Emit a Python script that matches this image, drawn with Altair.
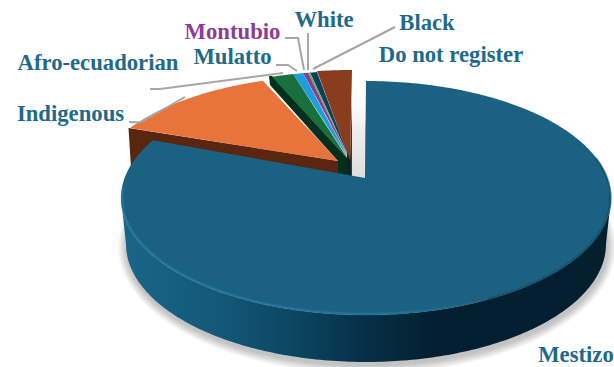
import math
import altair as alt

# Population shares by self-identified ethnicity, in percent, clockwise from twelve o'clock
categories = ["Mestizo", "Indigenous", "Afro-ecuadorian", "Mulatto", "Montubio", "White", "Black", "Do not register"]
shares = [83.22, 11.47, 1.44, 0.66, 0.33, 0.13, 0.46, 2.28]

top_colors = ["#1A6182", "#E8743B", "#17703D", "#1C9FDC", "#8E3A96", "#5BB947", "#0F3F5C", "#8A3D1C"]
side_colors = ["#0C4662", "#5A2610", "#03301C", "#0B4F6E", "#4A1E50", "#2E6024", "#062033", "#5F2A12"]

# Disc geometry on the 614x367 canvas
W, H = 614, 367
CX, CY, RX, RY = 366, 198, 245, 117
BASE_CX, BASE_CY, BASE_RX, BASE_RY = 366, 244, 240, 118
MAIN_APEX = (365, 178)
PULLED_RY = 105

# Centre and apex of each pulled-out slice
slice_center = {
    "Indigenous": (343, 180), "Afro-ecuadorian": (352, 176), "Mulatto": (352, 176),
    "Montubio": (352, 176), "White": (352, 176), "Black": (352, 176), "Do not register": (352, 175),
}
slice_apex = {
    "Indigenous": (338, 161), "Afro-ecuadorian": (347, 158), "Mulatto": (347.5, 157),
    "Montubio": (348, 156), "White": (348, 156), "Black": (348.5, 156), "Do not register": (350, 160),
}
# Visible cut faces of the pulled-out slices
cut_faces = {
    "Do not register": [(350, 160), (352, 100), (352, 177), (349, 177)],
    "Black": [(347, 150), (350, 150), (351, 177), (347, 177)],
    "Afro-ecuadorian": [(269, 76), (272, 76), (347, 158), (347, 178), (338, 178), (338, 161), (270, 85)],
    "Indigenous": [(128.5, 128), (338, 161), (338, 201), (131, 168)],
}

label_colors = ["#1E6A8C"] * len(categories)
label_colors[categories.index("Montubio")] = "#8E3A96"
label_x = [576, 70.5, 98, 232.5, 232.5, 324, 427, 451]
label_y = [355, 114, 63, 57, 32, 20, 23, 55]

# Leader lines from each label to its slice
leaders = [
    [(129, 122), (140, 122.5), (185, 97)],
    [(150, 89), (160, 89), (283, 73)],
    [(276, 65), (288, 65), (297, 71)],
    [(285, 38), (298, 38), (304, 70)],
    [(308, 33), (308, 70)],
    [(395, 27), (313, 69)],
]


def ellipse_pt(cx, cy, rx, ry, deg):
    t = math.radians(deg)
    return (cx + rx * math.sin(t), cy - ry * math.cos(t))


def arc(cx, cy, rx, ry, a0, a1, step=1.0):
    n = max(2, int(abs(a1 - a0) / step) + 1)
    return [ellipse_pt(cx, cy, rx, ry, a0 + (a1 - a0) * i / (n - 1)) for i in range(n)]


def poly(points):
    ring = [list(p) for p in points]
    ring.append(ring[0])
    return {"type": "Feature", "properties": {}, "geometry": {"type": "Polygon", "coordinates": [ring]}}


def path(points):
    return {"type": "Feature", "properties": {},
            "geometry": {"type": "LineString", "coordinates": [list(p) for p in points]}}


def geo(feature, **mark):
    return alt.Chart(alt.Data(values=[feature])).mark_geoshape(**mark)


def h_gradient(stops):
    return alt.LinearGradient(gradient="linear", x1=0, x2=1, y1=0, y2=0,
                              stops=[alt.GradientStop(offset=o, color=c) for o, c in stops])


def v_gradient(stops):
    return alt.LinearGradient(gradient="linear", x1=0, x2=0, y1=0, y2=1,
                              stops=[alt.GradientStop(offset=o, color=c) for o, c in stops])


total = sum(shares)
edges = [0.0]
for s in shares:
    edges.append(edges[-1] + 360.0 * s / total)
span = {c: (edges[i], edges[i + 1]) for i, c in enumerate(categories)}

layers = []

# Soft drop shadow beneath the disc
for k in range(9, 0, -1):
    layers.append(geo(poly(arc(BASE_CX + 1, BASE_CY + 3, BASE_RX + k, BASE_RY + k, 0, 360, 3)),
                      fill="#000000", fillOpacity=0.028, strokeWidth=0))

# Light shadow in the gap left by the pulled-out slices
layers.append(geo(poly([(353, 104), (365, 104), (365, 178), (350, 176)]),
                  fill=v_gradient([(0, "#FFFFFF"), (0.35, "#EDEDED"), (1, "#DEDEDE")]), strokeWidth=0))

# Cut faces and tops of the pulled-out slices
pulled = categories[1:]
for name in reversed(pulled):
    if name in cut_faces:
        layers.append(geo(poly(cut_faces[name]), fill=side_colors[categories.index(name)], strokeWidth=0))
for name in reversed(pulled):
    i = categories.index(name)
    cx, cy = slice_center[name]
    layers.append(geo(poly([slice_apex[name]] + arc(cx, cy, RX, PULLED_RY, *span[name], 0.25)),
                      fill=top_colors[i], strokeWidth=0))

# Main slice: wall first, then the top face and its bevel
a0, a1 = span["Mestizo"]
wall = arc(CX, CY, RX, RY, 90, 270) + arc(BASE_CX, BASE_CY, BASE_RX, BASE_RY, 270, 90)
layers.append(geo(poly(wall), strokeWidth=0,
                  fill=h_gradient([(0, "#1A6688"), (0.2, "#135877"), (0.36, "#0B4560"),
                                   (0.5, "#062F47"), (0.64, "#031F31"), (1, "#03202F")])))
layers.append(geo(poly([MAIN_APEX] + arc(CX, CY, RX, RY, a0, a1)), fill=top_colors[0], strokeWidth=0))
bevel = h_gradient([(0, "#2A8AB0"), (0.7, "#2A8AB0"), (1, "#1A6182")])
layers.append(geo(path(arc(CX, CY, RX - 1, RY - 1, 150, 275)), filled=False, strokeWidth=3, strokeOpacity=0.25,
                  stroke=bevel))
layers.append(geo(path(arc(CX, CY, RX - 1, RY - 1, 150, 275)), filled=False, strokeWidth=1.5, strokeOpacity=0.35,
                  stroke=bevel))
layers.append(geo(path(arc(CX, CY, RX - 0.5, RY - 0.5, 70, 150)), filled=False, strokeWidth=2.5, strokeOpacity=0.5,
                  stroke="#0E4561"))

# Leader lines
for line in leaders:
    layers.append(geo(path(line), filled=False, stroke="#A6A6A6", strokeWidth=2))

# Category labels
label_rows = [{"name": c, "px": x, "py": y, "color": col}
              for c, x, y, col in zip(categories, label_x, label_y, label_colors)]
layers.append(
    alt.Chart(alt.Data(values=label_rows))
    .mark_text(font="Liberation Serif", fontWeight="bold", fontSize=22.7, align="center", baseline="middle")
    .encode(
        x=alt.X("px:Q", scale=None),
        y=alt.Y("py:Q", scale=None),
        text="name:N",
        color=alt.Color("color:N", scale=None),
    )
)

chart = (
    alt.layer(*layers)
    .project(type="identity", scale=1, translate=[0, 0])
    .properties(width=W, height=H, padding=0, autosize=alt.AutoSizeParams(type="none"), background="#FFFFFF")
    .configure_view(stroke=None)
)

chart.save("out.html", embed_options={"renderer": "svg", "actions": False})
